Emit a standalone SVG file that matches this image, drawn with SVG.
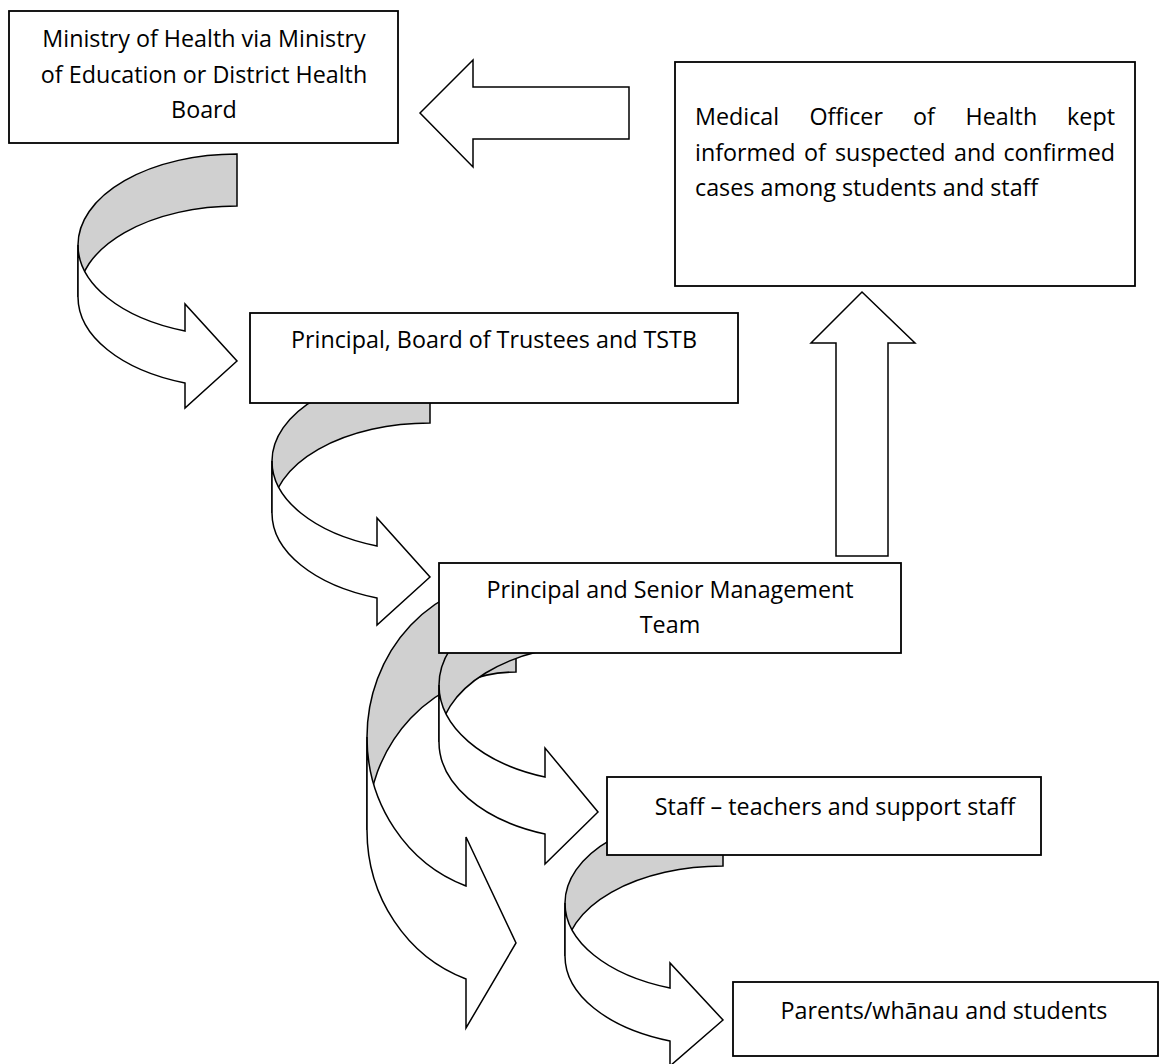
<svg xmlns="http://www.w3.org/2000/svg" width="1170" height="1064" viewBox="0 0 1170 1064">
<style>
.box{fill:#ffffff;stroke:#000000;stroke-width:1.8}
.band{fill:#d0d0d0;stroke:#000000;stroke-width:1.5;stroke-linejoin:miter}
.front{fill:#ffffff;stroke:#000000;stroke-width:1.5;stroke-linejoin:miter}
.arr{fill:#ffffff;stroke:#000000;stroke-width:1.5;stroke-linejoin:miter}
text{font-family:"Open Sans","Noto Sans","Liberation Sans",sans-serif;font-size:23.3px;fill:#000000}
.c{text-anchor:middle}
.e{text-anchor:end}
</style>
<rect width="1170" height="1064" fill="#ffffff"/>
<g id="connectors">
  <g id="curved-1">
    <path class="band" d="M237,154 A159,91 0 0 0 78,245 L78,297 A159,91 0 0 1 237,206 Z"/>
    <path class="front" d="M78,245 A159,91 0 0 0 185,331 L185,304 L237,361 L185,408 L185,383 A159,91 0 0 1 78,297 Z"/>
  </g>
  <g id="curved-2">
    <path class="band" d="M430,371 A158,90 0 0 0 272,461 L272,513 A158,90 0 0 1 430,423 Z"/>
    <path class="front" d="M272,461 A158,90 0 0 0 377,546 L377,518 L430,577 L377,625 L377,598 A158,90 0 0 1 272,513 Z"/>
  </g>
  <g id="curved-3">
    <path class="band" d="M516,579 A149,158 0 0 0 367,737 L367,830 A149,158 0 0 1 516,672 Z"/>
    <path class="front" d="M367,737 A149,158 0 0 0 466,886 L466,837 L516,943 L466,1028 L466,979 A149,158 0 0 1 367,830 Z"/>
  </g>
  <g id="curved-4">
    <path class="band" d="M598,587.4 A159,97.6 0 0 0 439,685 L439,742 A159,97.6 0 0 1 598,644.4 Z"/>
    <path class="front" d="M439,685 A159,97.6 0 0 0 545,777 L545,748 L598,812 L545,864 L545,834 A159,97.6 0 0 1 439,742 Z"/>
  </g>
  <g id="curved-5">
    <path class="band" d="M723,813 A158,90 0 0 0 565,903 L565,956 A158,90 0 0 1 723,866 Z"/>
    <path class="front" d="M565,903 A158,90 0 0 0 670,988 L670,963 L723,1020 L670,1066 L670,1041 A158,90 0 0 1 565,956 Z"/>
  </g>
  <polygon id="left-arrow" class="arr" points="420,113 473,60 473,87 629,87 629,139 473,139 473,167"/>
  <polygon id="up-arrow" class="arr" points="862,292 915,343 888,343 888,556 836,556 836,343 811,343"/>
</g>
<g id="node-ministry">
  <rect class="box" x="9" y="11" width="389" height="132"/>
  <text class="c" x="204" y="47">Ministry of Health via Ministry</text>
  <text class="c" x="204" y="83">of Education or District Health</text>
  <text class="c" x="204" y="118">Board</text>
</g>
<g id="node-moh">
  <rect class="box" x="675" y="62" width="460" height="224"/>
  <text x="695" y="125">Medical</text>
  <text x="809.5" y="125">Officer</text>
  <text x="913" y="125">of</text>
  <text x="965.5" y="125">Health</text>
  <text class="e" x="1115" y="125">kept</text>
  <text x="695" y="160.5">informed</text>
  <text x="804" y="160.5">of</text>
  <text x="835" y="160.5">suspected</text>
  <text x="954" y="160.5">and</text>
  <text class="e" x="1115" y="160.5">confirmed</text>
  <text x="695" y="196">cases among students and staff</text>
</g>
<g id="node-principal-board">
  <rect class="box" x="250" y="313" width="488" height="90"/>
  <text class="c" x="494" y="348">Principal, Board of Trustees and TSTB</text>
</g>
<g id="node-principal-smt">
  <rect class="box" x="439" y="563" width="462" height="90"/>
  <text class="c" x="670" y="598">Principal and Senior Management</text>
  <text class="c" x="670" y="633">Team</text>
</g>
<g id="node-staff">
  <rect class="box" x="607" y="777" width="434" height="78"/>
  <text class="c" x="835" y="815">Staff – teachers and support staff</text>
</g>
<g id="node-parents">
  <rect class="box" x="733" y="982" width="425" height="74"/>
  <text class="c" x="944" y="1019">Parents/whānau and students</text>
</g>
</svg>
